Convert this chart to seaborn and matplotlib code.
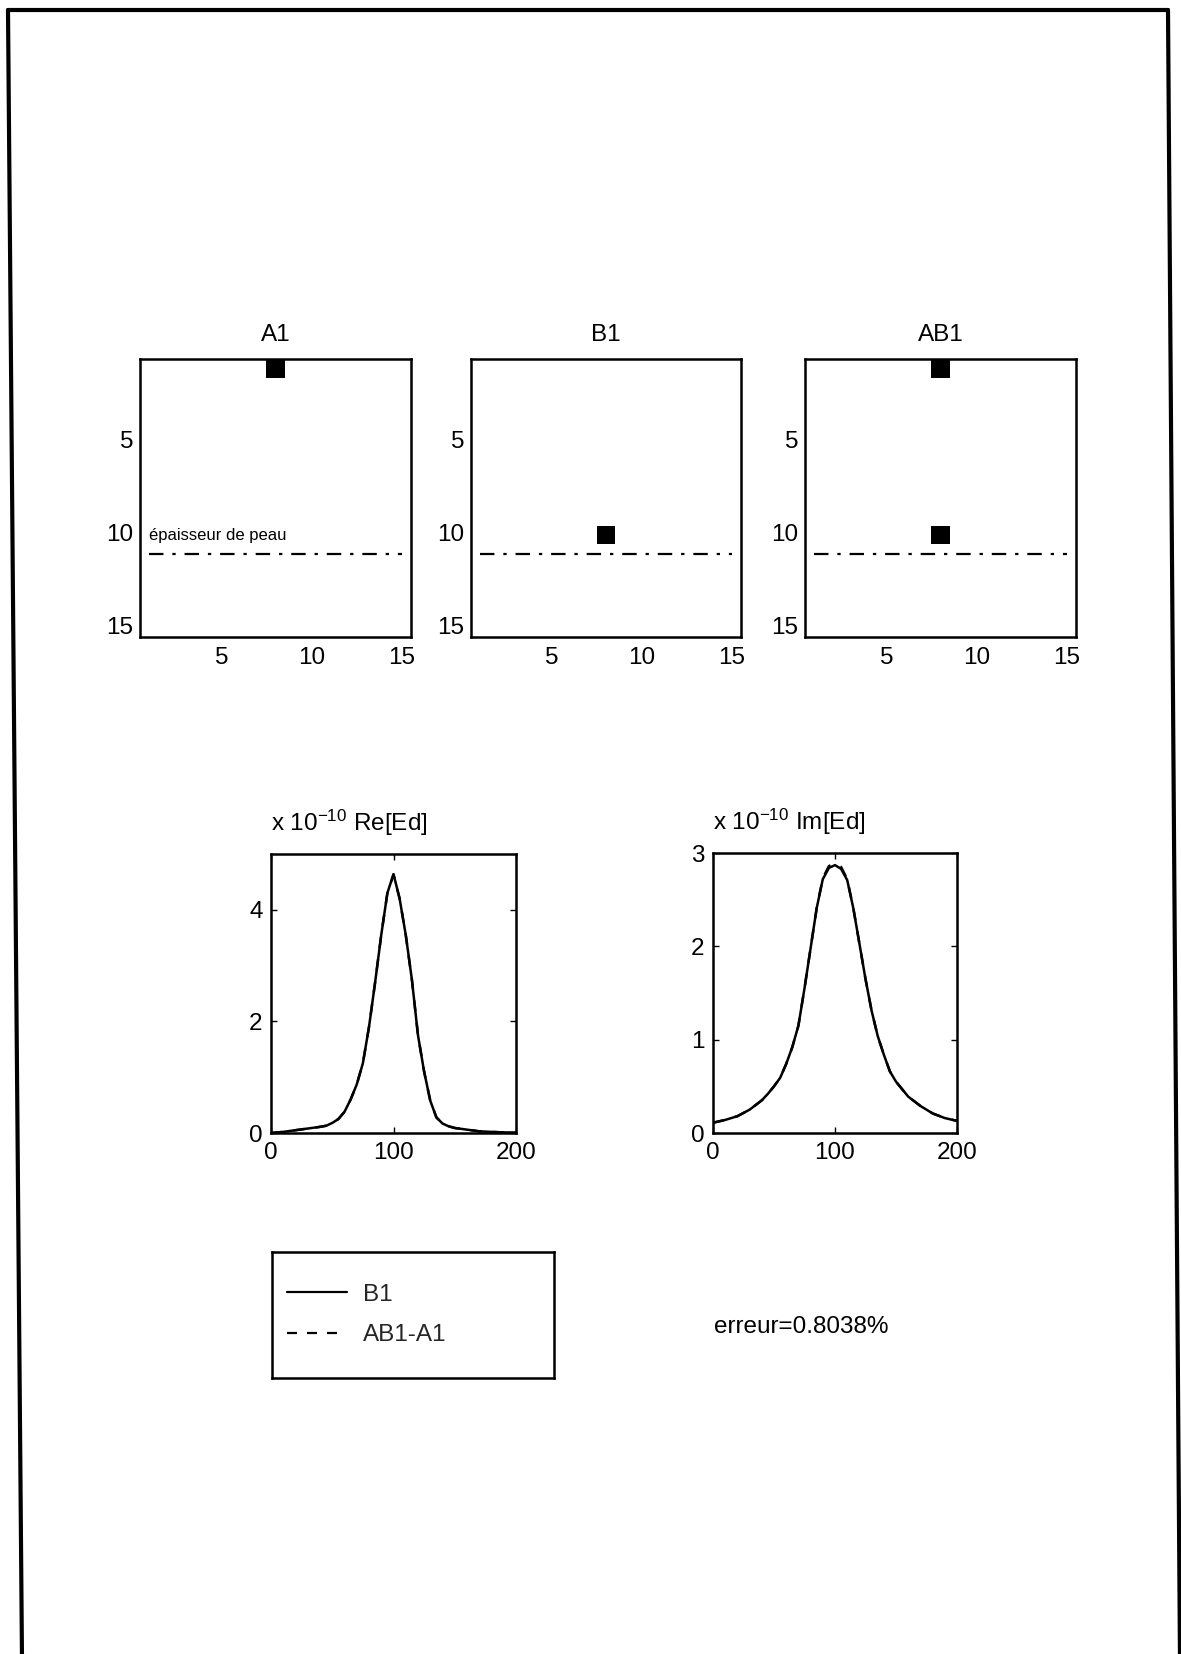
import numpy as np
import pandas as pd
import seaborn as sns
import matplotlib
matplotlib.use("Agg")
import matplotlib.pyplot as plt
from matplotlib.colors import ListedColormap
from matplotlib.lines import Line2D

# ---------------- data ----------------
grid_size = 15
panel_titles = ["A1", "B1", "AB1"]
# occupied cells (row, column), 1-indexed as in the original
a1_cells = [(1, 8)]
b1_cells = [(10, 8)]
ab1_cells = [(1, 8), (10, 8)]
skin_depth_row = 11
skin_depth_cols = [1, 15]
skin_label = "épaisseur de peau"
grid_ticks = [5, 10, 15]

x_pos = [0, 10, 20, 30, 40, 45, 50, 55, 60, 65, 70, 75, 80, 85, 90, 95, 100,
         105, 110, 115, 120, 125, 130, 135, 140, 145, 150, 160, 170, 180, 190, 200]
re_b1 = [0.0, 0.02, 0.05, 0.08, 0.11, 0.13, 0.18, 0.25, 0.38, 0.60, 0.87, 1.25,
         1.90, 2.70, 3.55, 4.30, 4.64, 4.20, 3.55, 2.75, 1.75, 1.10, 0.58, 0.28,
         0.17, 0.12, 0.09, 0.06, 0.03, 0.02, 0.01, 0.01]
re_ab1_a1 = [0.0, 0.02, 0.05, 0.08, 0.11, 0.13, 0.18, 0.25, 0.38, 0.60, 0.87, 1.25,
             1.90, 2.70, 3.55, 4.30, 4.63, 4.20, 3.55, 2.75, 1.75, 1.10, 0.58, 0.28,
             0.17, 0.12, 0.09, 0.06, 0.03, 0.02, 0.01, 0.01]
im_b1 = [0.11, 0.14, 0.18, 0.25, 0.35, 0.42, 0.50, 0.59, 0.74, 0.92, 1.15, 1.55,
         1.98, 2.41, 2.72, 2.84, 2.87, 2.83, 2.71, 2.41, 2.03, 1.65, 1.31, 1.04,
         0.84, 0.66, 0.55, 0.39, 0.29, 0.21, 0.16, 0.13]
im_ab1_a1 = [0.11, 0.14, 0.18, 0.25, 0.35, 0.42, 0.50, 0.59, 0.74, 0.92, 1.15, 1.55,
             1.98, 2.41, 2.73, 2.86, 2.89, 2.85, 2.72, 2.41, 2.03, 1.65, 1.31, 1.04,
             0.84, 0.66, 0.55, 0.39, 0.29, 0.21, 0.16, 0.13]
legend_labels = ["B1", "AB1-A1"]
error_text = "erreur=0.8038%"

# ---------------- style ----------------
sns.set_theme(style="white")
plt.rcParams["font.family"] = ["Liberation Sans", "DejaVu Sans"]
plt.rcParams["mathtext.fontset"] = "custom"
plt.rcParams["mathtext.rm"] = "Liberation Sans"
plt.rcParams["mathtext.it"] = "Liberation Sans"
FS = 17.5
DASHED = (0, (4.5, 4.5))

W, H = 1181, 1654
fig = plt.figure(figsize=(W / 100, H / 100), dpi=100)
fig.patch.set_facecolor("white")


def rect(left, top, right, bottom):
    return [left / W, 1 - bottom / H, (right - left) / W, (bottom - top) / H]


def style_axes(ax, xpad, ypad):
    for s in ax.spines.values():
        s.set_visible(True)
        s.set_color("black")
        s.set_linewidth(1.8)
    ax.tick_params(direction="in", length=4, width=1, colors="black",
                   labelsize=FS, top=True, right=True, bottom=True, left=True)
    ax.tick_params(axis="x", pad=xpad)
    ax.tick_params(axis="y", pad=ypad)


# ---------------- top grid panels ----------------
panel_rects = [rect(140, 359, 411, 637), rect(471, 359, 741, 637), rect(805, 359, 1076, 637)]
cmap = ListedColormap(["white", "black"])
for title, cells, r in zip(panel_titles, [a1_cells, b1_cells, ab1_cells], panel_rects):
    ax = fig.add_axes(r)
    mat = np.zeros((grid_size, grid_size))
    for (row, col) in cells:
        mat[row - 1, col - 1] = 1
    df = pd.DataFrame(mat, index=range(1, grid_size + 1), columns=range(1, grid_size + 1))
    sns.heatmap(df, ax=ax, cmap=cmap, vmin=0, vmax=1, cbar=False, square=False)
    ax.set_xlim(0, grid_size)
    ax.set_ylim(grid_size, 0)
    ax.set_xticks([t - 0.5 for t in grid_ticks])
    ax.set_xticklabels([str(t) for t in grid_ticks], rotation=0)
    ax.set_yticks([t - 0.5 for t in grid_ticks])
    ax.set_yticklabels([str(t) for t in grid_ticks], rotation=0)
    ax.set_xlabel("")
    ax.set_ylabel("")
    style_axes(ax, xpad=7.5, ypad=5)
    ax.plot([c - 0.5 for c in skin_depth_cols], [skin_depth_row - 0.5] * 2,
            color="black", lw=1.6, linestyle=(0, (6.5, 4, 1.5, 4)))
    if title == "A1":
        ax.text(skin_depth_cols[0] - 0.5, skin_depth_row - 1.25, skin_label,
                fontsize=12, ha="left", va="baseline", color="black")
    ax.set_title(title, fontsize=FS, pad=13, color="black")

# ---------------- bottom curve panels ----------------
ax_re = fig.add_axes(rect(271, 854, 516, 1133))
ax_im = fig.add_axes(rect(713, 853, 957, 1133))
curve_df = pd.DataFrame({"x": x_pos, "re_b1": re_b1, "re_ab1": re_ab1_a1,
                         "im_b1": im_b1, "im_ab1": im_ab1_a1})

sns.lineplot(data=curve_df, x="x", y="re_b1", ax=ax_re, color="black", lw=1.8, legend=False)
sns.lineplot(data=curve_df, x="x", y="re_ab1", ax=ax_re, color="black", lw=1.8,
             linestyle=DASHED, legend=False)
sns.lineplot(data=curve_df, x="x", y="im_b1", ax=ax_im, color="black", lw=1.8, legend=False)
sns.lineplot(data=curve_df, x="x", y="im_ab1", ax=ax_im, color="black", lw=1.8,
             linestyle=DASHED, legend=False)

ax_re.set_xlim(0, 200)
ax_re.set_ylim(0, 5)
ax_re.set_xticks([0, 100, 200])
ax_re.set_yticks([0, 2, 4])
ax_im.set_xlim(0, 200)
ax_im.set_ylim(0, 3)
ax_im.set_xticks([0, 100, 200])
ax_im.set_yticks([0, 1, 2, 3])
for ax, lab in [(ax_re, "Re[Ed]"), (ax_im, "Im[Ed]")]:
    ax.set_xlabel("")
    ax.set_ylabel("")
    style_axes(ax, xpad=6.5, ypad=6)
    ax.annotate(r"x 10$^{-10}$ " + lab, xy=(0, 1), xycoords="axes fraction",
                xytext=(0, 16.5), textcoords="offset points", ha="left", va="baseline",
                fontsize=FS, color="black")

# ---------------- legend box ----------------
ax_leg = fig.add_axes(rect(272, 1252, 554, 1378))
ax_leg.set_xticks([])
ax_leg.set_yticks([])
for s in ax_leg.spines.values():
    s.set_visible(True)
    s.set_color("black")
    s.set_linewidth(1.8)
handles = [Line2D([], [], color="black", lw=1.6),
           Line2D([], [], color="black", lw=1.6, linestyle=DASHED)]
ax_leg.legend(handles, legend_labels, loc="center left", frameon=False, fontsize=FS,
              handlelength=2.5, handletextpad=0.66, labelspacing=0.75,
              borderaxespad=0.4, borderpad=0.2)

fig.text(714 / W, 1 - 1327 / H, error_text, fontsize=FS, ha="left", va="center", color="black")

# ---------------- page frame ----------------
def fline(x0, y0, x1, y1):
    fig.add_artist(Line2D([x0 / W, x1 / W], [1 - y0 / H, 1 - y1 / H],
                          transform=fig.transFigure, color="black", lw=3))

fline(8, 10, 1168, 10)
fline(8, 10, 22, 1660)
fline(1168, 10, 1180, 1660)

fig.savefig("out.png", dpi=100, facecolor="white")
